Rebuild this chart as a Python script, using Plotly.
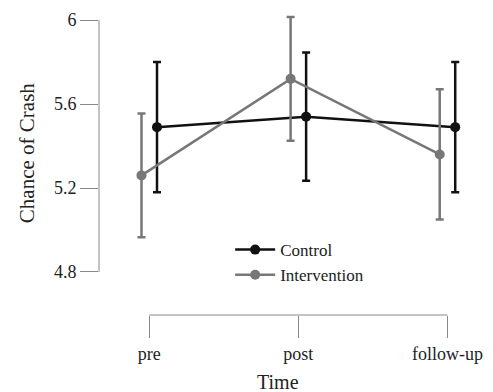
import plotly.graph_objects as go

times = ["pre", "post", "follow-up"]
control_mean = [5.49, 5.54, 5.49]
control_err = [0.31, 0.305, 0.31]
interv_mean = [5.26, 5.72, 5.36]
interv_err = [0.295, 0.295, 0.31]
yticks = [4.8, 5.2, 5.6, 6.0]
ytick_text = ["4.8", "5.2", "5.6", "6"]

FONT = "Liberation Serif, Times New Roman, serif"
off = 0.052
xi = list(range(len(times)))

fig = go.Figure()
fig.add_trace(go.Scatter(
    x=[v + off for v in xi], y=control_mean, name="Control",
    mode="lines+markers",
    line=dict(color="#111111", width=2.5),
    marker=dict(color="#111111", size=10),
    error_y=dict(type="data", array=control_err, color="#111111", thickness=2.5, width=4),
    cliponaxis=False,
))
fig.add_trace(go.Scatter(
    x=[v - off for v in xi], y=interv_mean, name="Intervention",
    mode="lines+markers",
    line=dict(color="#777777", width=2.5),
    marker=dict(color="#777777", size=10),
    error_y=dict(type="data", array=interv_err, color="#777777", thickness=2.5, width=4),
    cliponaxis=False,
))

# y axis line between first and last tick
fig.add_shape(type="line", xref="paper", yref="y", x0=0, x1=0, y0=yticks[0], y1=yticks[-1],
              line=dict(color="#888888", width=1))
# x bracket line
fig.add_shape(type="line", xref="x", yref="paper", x0=xi[0], x1=xi[-1], y0=0, y1=0,
              line=dict(color="#888888", width=1))

fig.update_layout(
    width=493, height=392,
    margin=dict(l=99, r=10, t=10, b=77),
    paper_bgcolor="white", plot_bgcolor="white",
    font=dict(family=FONT, color="#222222", size=18),
    showlegend=True,
    legend=dict(x=0.347, y=0.272, xanchor="left", yanchor="top",
                bgcolor="rgba(0,0,0,0)", font=dict(size=17, family=FONT, color="#222222"),
                itemwidth=40, tracegroupgap=0),
    xaxis=dict(range=[-0.337, 2.198], tickvals=xi, ticktext=times,
               showgrid=False, zeroline=False, showline=False,
               ticks="outside", ticklen=22, tickcolor="#888888", tickwidth=1,
               tickfont=dict(size=18, family=FONT)),
    yaxis=dict(range=[4.595, 6.048], tickvals=yticks, ticktext=ytick_text,
               showgrid=False, zeroline=False, showline=False,
               ticks="outside", ticklen=18, tickcolor="#888888", tickwidth=1,
               tickfont=dict(size=18, family=FONT)),
    annotations=[
        dict(text="Chance of Crash", xref="paper", yref="paper", x=(26 - 99) / 384, y=(315 - 153) / 305,
             textangle=-90, showarrow=False, font=dict(size=21, family=FONT, color="#222222"),
             xanchor="center", yanchor="middle"),
        dict(text="Time", xref="paper", yref="paper", x=(281 - 99) / 384, y=-(382 - 315) / 305,
             showarrow=False, font=dict(size=20, family=FONT, color="#222222"),
             xanchor="center", yanchor="middle"),
    ],
)

fig.write_html("out.html")
